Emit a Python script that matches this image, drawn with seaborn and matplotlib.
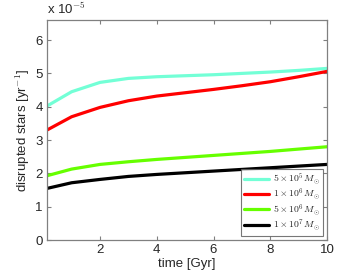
import numpy as np
import pandas as pd
import matplotlib
matplotlib.use("Agg")
import matplotlib.pyplot as plt
import seaborn as sns
from matplotlib.ticker import FuncFormatter

# Werte (Einheit 1e-5 / yr)
time_gyr = [0.13, 1, 2, 3, 4, 5, 6, 7, 8, 9, 10]
rate_5e5 = [4.02, 4.45, 4.73, 4.85, 4.90, 4.93, 4.96, 5.00, 5.04, 5.09, 5.15]
rate_1e6 = [3.30, 3.70, 3.98, 4.18, 4.32, 4.42, 4.52, 4.63, 4.75, 4.90, 5.06]
rate_5e6 = [1.93, 2.13, 2.27, 2.35, 2.42, 2.48, 2.54, 2.60, 2.66, 2.73, 2.80]
rate_1e7 = [1.55, 1.72, 1.82, 1.91, 1.97, 2.02, 2.07, 2.12, 2.17, 2.22, 2.27]

labels = [r'$5\times10^5M_\odot$', r'$1\times10^6M_\odot$',
          r'$5\times10^6M_\odot$', r'$1\times10^7M_\odot$']
colors = ['#73FFD6', '#FF0000', '#66FF00', '#000000']

frames = []
for lab, vals in zip(labels, [rate_5e5, rate_1e6, rate_5e6, rate_1e7]):
    frames.append(pd.DataFrame({'time': time_gyr,
                                'rate': np.array(vals) * 1e-5,
                                'mass': lab}))
df = pd.concat(frames, ignore_index=True)

sns.set_style('white')
plt.rcParams['font.family'] = ['Liberation Sans', 'DejaVu Sans']
plt.rcParams['mathtext.fontset'] = 'cm'

fig = plt.figure(figsize=(3.61, 2.71), dpi=100)
ax = fig.add_axes([0.130, 0.114, 0.776, 0.812])

sns.lineplot(data=df, x='time', y='rate', hue='mass', palette=colors,
             hue_order=labels, linewidth=2.3, ax=ax)

ax.set_xlim(0.13, 10)
ax.set_ylim(0, 6.6e-5)
ax.set_xticks([2, 4, 6, 8, 10])
ax.set_yticks(np.arange(0, 7) * 1e-5)
ax.yaxis.set_major_formatter(FuncFormatter(lambda v, p: f'{v * 1e5:.0f}'))
ax.text(0.0, 1.012, r'x 10$^{-5}$', transform=ax.transAxes,
        fontsize=9.5, ha='left', va='bottom')

ax.set_xlabel('time [Gyr]', fontsize=9.5, labelpad=1)
ax.set_ylabel(r'disrupted stars [yr$^{-1}$]', fontsize=9.5, labelpad=2)
ax.tick_params(direction='in', length=3, width=0.8, color='#808080',
               labelsize=9.5, bottom=True, left=True, top=True, right=True,
               pad=3)
for s in ax.spines.values():
    s.set_color('#808080')
    s.set_linewidth(0.9)

leg = ax.legend(loc='lower right', fontsize=7, frameon=True, fancybox=False,
                handlelength=2.6, handletextpad=0.4, borderpad=0.25,
                borderaxespad=0.45, labelspacing=0.0)
leg.get_frame().set_edgecolor('#555555')
leg.get_frame().set_linewidth(0.8)
for line in leg.get_lines():
    line.set_linewidth(2.3)

fig.savefig('out.png', dpi=100)
